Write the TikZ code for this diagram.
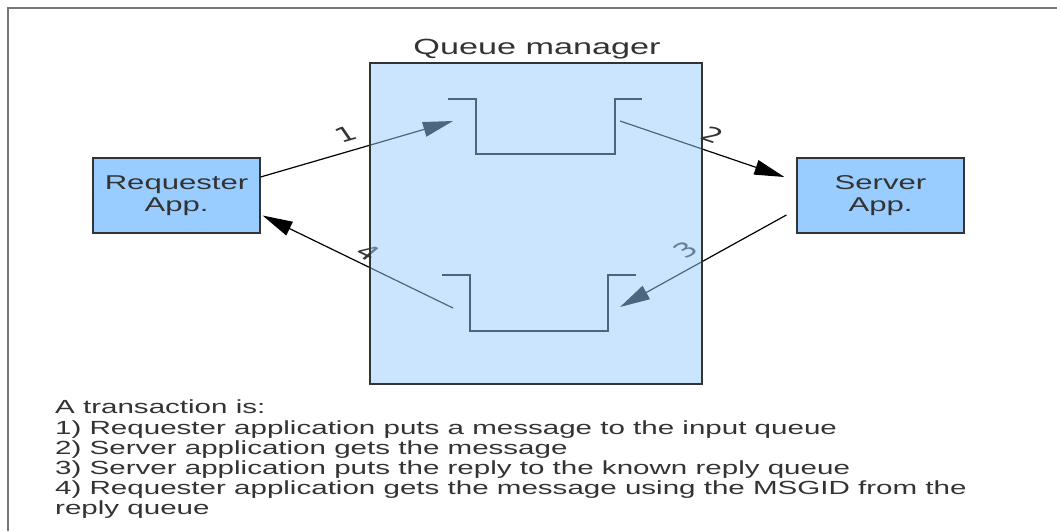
\documentclass[tikz,border=0pt]{standalone}
\usepackage{fontspec}
\setmainfont[FakeStretch=1.555]{Liberation Sans}
\newfontfamily\digitfont{DejaVu Sans}
\usetikzlibrary{arrows.meta}
\definecolor{boxblue}{HTML}{99CCFF}
\definecolor{txt}{HTML}{333333}
\definecolor{edge}{HTML}{333333}
\definecolor{framegray}{HTML}{777777}
\begin{document}
\begin{tikzpicture}[x=1pt,y=-1pt,
  app/.style={draw=edge, line width=1.2pt, fill=boxblue, minimum width=167pt, minimum height=75pt, inner sep=0pt, align=center, font=\fontsize{20}{22}\selectfont, text=txt},
  qmbox/.style={draw=edge, line width=1.5pt, fill=boxblue, fill opacity=0.5, draw opacity=1, minimum width=332pt, minimum height=321pt, inner sep=0pt},
  conn/.style={draw=black, line width=1.2pt, -{Triangle[length=30pt,width=15pt]}},
  lbl/.style={font=\digitfont\fontsize{20}{20}\selectfont, text=txt, inner sep=0pt},
  queue/.style={draw=black, line width=1.6pt},
  frame/.style={draw=framegray, line width=2pt}]
\useasboundingbox (0,0) rectangle (1057,531);
\draw[frame] (8,531) -- (8,8) -- (1057,8);
% application boxes
\node[app] (req) at (176.5,195.5) {Requester\\App.};
\node[app] (srv) at (880.5,195.5) {Server\\App.};
% queue ends
\coordinate (q1in) at (453,121);
\coordinate (q1out) at (620,121);
\coordinate (q2in) at (620,307);
\coordinate (q2out) at (453,308);
% queues
\draw[queue] (448,99) -- (476,99) -- (476,154) -- (615,154) -- (615,99) -- (642,99);
\draw[queue] (442,275) -- (470,275) -- (470,331) -- (608,331) -- (608,275) -- (636,275);
% connectors
\draw[conn] ([yshift=18.5pt]req.east) -- (q1in);
\draw[conn] (q1out) -- ([xshift=-12pt,yshift=18.5pt]srv.west);
\draw[conn] ([xshift=-10pt,yshift=-19.5pt]srv.west) -- (q2in);
\draw[conn] (q2out) -- ([xshift=2pt,yshift=-20pt]req.east);
% labels
\node[lbl, xscale=1.555, rotate=24, transform shape] (l1) at (346,134) {1};
\node[lbl, xscale=1.555, rotate=-28, transform shape] (l2) at (713,135) {2};
\node[lbl, xscale=1.555, rotate=41, transform shape] (l3) at (686,250) {3};
\node[lbl, xscale=1.555, rotate=-37, transform shape] (l4) at (368,252) {4};
% queue manager
\node[qmbox] (qm) at (536,223.5) {};
\node[anchor=base, text=txt, font=\fontsize{22}{24}\selectfont, inner sep=0pt] (qmt) at (537,54) {Queue manager};
% description
\node[anchor=north west, align=left, text=txt, font=\fontsize{19}{20.2}\selectfont, inner sep=0pt] (desc) at (55,400)
 {A transaction is:\\
  1) Requester application puts a message to the input queue\\
  2) Server application gets the message\\
  3) Server application puts the reply to the known reply queue\\
  4) Requester application gets the message using the MSGID from the\\
  reply queue};
\end{tikzpicture}
\end{document}
